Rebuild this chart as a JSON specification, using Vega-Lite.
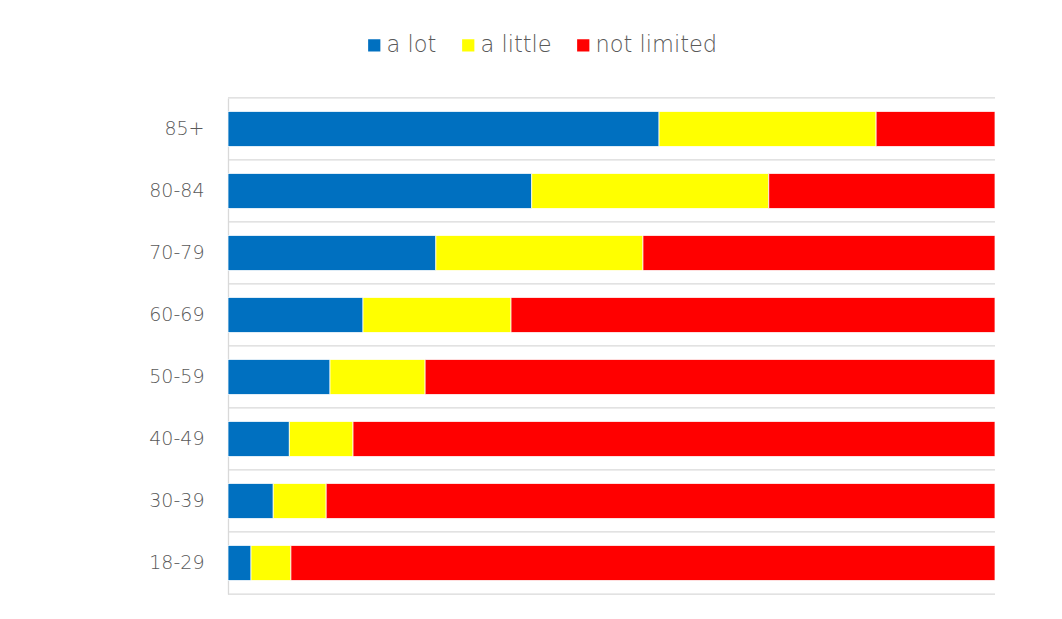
{
  "$schema": "https://vega.github.io/schema/vega-lite/v6.json",
  "autosize": "none",
  "width": 767,
  "height": 496,
  "padding": {"left": 228, "top": 98, "right": 67, "bottom": 25},
  "background": "white",
  "config": {"view": {"stroke": null}, "font": "Lato"},
  "data": {"values": [
    {"age": "85+", "level": "a lot", "k": 1, "pct": 56.2},
    {"age": "85+", "level": "a little", "k": 2, "pct": 28.3},
    {"age": "85+", "level": "not limited", "k": 3, "pct": 15.5},
    {"age": "80-84", "level": "a lot", "k": 1, "pct": 39.6},
    {"age": "80-84", "level": "a little", "k": 2, "pct": 30.9},
    {"age": "80-84", "level": "not limited", "k": 3, "pct": 29.5},
    {"age": "70-79", "level": "a lot", "k": 1, "pct": 27.1},
    {"age": "70-79", "level": "a little", "k": 2, "pct": 27.0},
    {"age": "70-79", "level": "not limited", "k": 3, "pct": 45.9},
    {"age": "60-69", "level": "a lot", "k": 1, "pct": 17.6},
    {"age": "60-69", "level": "a little", "k": 2, "pct": 19.3},
    {"age": "60-69", "level": "not limited", "k": 3, "pct": 63.1},
    {"age": "50-59", "level": "a lot", "k": 1, "pct": 13.3},
    {"age": "50-59", "level": "a little", "k": 2, "pct": 12.4},
    {"age": "50-59", "level": "not limited", "k": 3, "pct": 74.3},
    {"age": "40-49", "level": "a lot", "k": 1, "pct": 8.0},
    {"age": "40-49", "level": "a little", "k": 2, "pct": 8.3},
    {"age": "40-49", "level": "not limited", "k": 3, "pct": 83.7},
    {"age": "30-39", "level": "a lot", "k": 1, "pct": 5.9},
    {"age": "30-39", "level": "a little", "k": 2, "pct": 6.9},
    {"age": "30-39", "level": "not limited", "k": 3, "pct": 87.2},
    {"age": "18-29", "level": "a lot", "k": 1, "pct": 3.0},
    {"age": "18-29", "level": "a little", "k": 2, "pct": 5.2},
    {"age": "18-29", "level": "not limited", "k": 3, "pct": 91.8}
  ]},
  "encoding": {
    "y": {
      "field": "age", "type": "nominal",
      "sort": ["85+", "80-84", "70-79", "60-69", "50-59", "40-49", "30-39", "18-29"],
      "scale": {"paddingInner": 0.435, "paddingOuter": 0.2175},
      "axis": {
        "title": null, "ticks": false,
        "domain": true, "domainColor": "#d9d9d9", "domainWidth": 1.3,
        "grid": false,
        "labelFontSize": 19, "labelColor": "#595959", "labelPadding": 24, "labelFont": "DejaVu Sans", "labelFontWeight": 300
      }
    }
  },
  "layer": [
    {
      "transform": [{"filter": "datum.k == 1"}],
      "mark": {"type": "rule", "color": "#d9d9d9", "strokeWidth": 1.3},
      "encoding": {
        "y": {"field": "age", "type": "nominal", "bandPosition": -0.386,
          "sort": ["85+", "80-84", "70-79", "60-69", "50-59", "40-49", "30-39", "18-29"]}
      }
    },
    {
      "transform": [{"filter": "datum.k == 1 && datum.age == '18-29'"}],
      "mark": {"type": "rule", "color": "#d9d9d9", "strokeWidth": 1.3},
      "encoding": {
        "y": {"field": "age", "type": "nominal", "bandPosition": 1.386,
          "sort": ["85+", "80-84", "70-79", "60-69", "50-59", "40-49", "30-39", "18-29"]}
      }
    },
    {
      "mark": {"type": "bar", "stroke": "white", "strokeWidth": 0.75},
      "encoding": {
        "x": {
          "field": "pct", "type": "quantitative", "stack": "normalize",
          "scale": {"domain": [0, 1], "nice": false},
          "axis": {"title": null, "labels": false, "ticks": false, "grid": false, "domain": false}
        },
        "color": {
          "field": "level", "type": "nominal",
          "sort": ["a lot", "a little", "not limited"],
          "scale": {"domain": ["a lot", "a little", "not limited"], "range": ["#0070C0", "#FFFF00", "#FF0000"]},
          "legend": {
            "title": null, "orient": "none", "direction": "horizontal",
            "legendX": 135, "legendY": -64,
            "symbolType": "square", "symbolSize": 150, "symbolStrokeWidth": 0,
            "labelFontSize": 22.5, "labelColor": "#595959", "labelFont": "DejaVu Sans", "labelFontWeight": 300,
            "columnPadding": 20, "labelOffset": 1
          }
        },
        "order": {"field": "k", "type": "quantitative"}
      }
    }
  ]
}
